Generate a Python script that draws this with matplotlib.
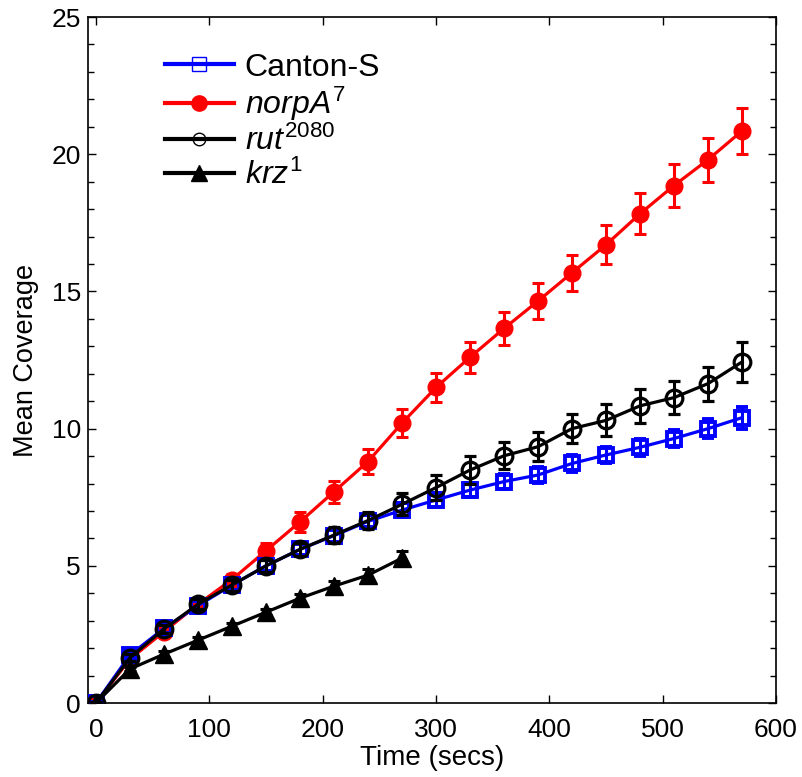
import matplotlib
matplotlib.use("Agg")
import matplotlib.pyplot as plt
import numpy as np
from matplotlib.ticker import MultipleLocator

plt.rcParams["font.family"] = ["Liberation Sans", "DejaVu Sans"]
plt.rcParams["mathtext.fontset"] = "custom"
plt.rcParams["mathtext.rm"] = "Liberation Sans"
plt.rcParams["mathtext.it"] = "Liberation Sans:italic"

# time points (secs)
time = [0, 30, 60, 90, 120, 150, 180, 210, 240, 270,
        300, 330, 360, 390, 420, 450, 480, 510, 540, 570]
time_krz = time[:10]

canton = [0, 1.75, 2.72, 3.55, 4.3, 5.0, 5.6, 6.1, 6.62, 7.03,
          7.4, 7.76, 8.07, 8.31, 8.73, 9.04, 9.32, 9.64, 10.0, 10.4]
canton_err = [0.05, 0.12, 0.15, 0.15, 0.18, 0.2, 0.2, 0.22, 0.22, 0.25,
              0.25, 0.25, 0.28, 0.28, 0.3, 0.3, 0.3, 0.32, 0.35, 0.4]

norpa = [0, 1.6, 2.6, 3.6, 4.5, 5.55, 6.6, 7.7, 8.8, 10.2,
         11.5, 12.6, 13.65, 14.65, 15.68, 16.7, 17.83, 18.86, 19.8, 20.85]
norpa_err = [0.05, 0.12, 0.15, 0.18, 0.22, 0.28, 0.35, 0.4, 0.45, 0.5,
             0.52, 0.57, 0.6, 0.65, 0.66, 0.71, 0.75, 0.79, 0.8, 0.84]

rut = [0, 1.65, 2.7, 3.6, 4.3, 5.0, 5.6, 6.12, 6.65, 7.24,
       7.85, 8.49, 9.01, 9.34, 10.0, 10.3, 10.83, 11.13, 11.64, 12.43]
rut_err = [0.05, 0.12, 0.15, 0.18, 0.2, 0.22, 0.25, 0.28, 0.3, 0.4,
           0.45, 0.5, 0.49, 0.53, 0.52, 0.58, 0.62, 0.6, 0.62, 0.73]

krz = [0, 1.24, 1.78, 2.29, 2.8, 3.31, 3.82, 4.26, 4.66, 5.28]
krz_err = [0.03, 0.08, 0.1, 0.1, 0.12, 0.12, 0.15, 0.18, 0.22, 0.25]

fig = plt.figure(figsize=(8.03, 7.77), dpi=100)
ax = fig.add_axes([0.1096, 0.0952, 0.8568, 0.8829])

lw = 2.3
ekw = dict(elinewidth=2.2, capsize=4.5, capthick=2.2)

ax.errorbar(time, canton, yerr=canton_err, color="#0000ff", lw=lw,
            marker="s", ms=10, mfc="none", mec="#0000ff", mew=2.8,
            **ekw, zorder=3)
ax.errorbar(time, norpa, yerr=norpa_err, color="#ff0000", lw=lw,
            marker="o", ms=12, mfc="#ff0000", mec="#ff0000",
            **ekw, zorder=2)
ax.errorbar(time, rut, yerr=rut_err, color="black", lw=lw,
            marker="o", ms=12, mfc="none", mec="black", mew=2.3,
            **ekw, zorder=4)
ax.errorbar(time_krz, krz, yerr=krz_err, color="black", lw=lw,
            marker="^", ms=13, mfc="black", mec="black",
            **ekw, zorder=5)

# legend handles (markers drawn smaller/thinner as in the original)
h1, = ax.plot([], [], color="#0000ff", lw=3, marker="s", ms=10,
              mfc="none", mec="#0000ff", mew=1)
h2, = ax.plot([], [], color="#ff0000", lw=3, marker="o", ms=11,
              mfc="#ff0000", mec="#ff0000")
h3, = ax.plot([], [], color="black", lw=3, marker="o", ms=9,
              mfc="none", mec="black", mew=1)
h4, = ax.plot([], [], color="black", lw=3, marker="^", ms=11,
              mfc="black", mec="black")
ax.legend([h1, h2, h3, h4],
          ["Canton-S", r"$\mathit{norpA}^{\mathit{7}}$",
           r"$\mathit{rut}^{\mathit{2080}}$", r"$\mathit{krz}^{\mathit{1}}$"],
          loc="upper left", bbox_to_anchor=(0.07, 0.99), frameon=False,
          fontsize=23, handlelength=2.15, labelspacing=0.08,
          handletextpad=0.35)

ax.set_xlim(-7, 600)
ax.set_ylim(0, 25)
ax.xaxis.set_major_locator(MultipleLocator(100))
ax.yaxis.set_major_locator(MultipleLocator(5))
ax.yaxis.set_minor_locator(MultipleLocator(1))
ax.tick_params(which="both", direction="in", top=True, right=True,
               labelsize=19, width=1)
ax.tick_params(which="major", length=6)
ax.tick_params(axis="x", which="major", pad=11)
ax.tick_params(axis="y", which="major", pad=5)
ax.tick_params(which="minor", length=4)
for sp in ax.spines.values():
    sp.set_linewidth(1.2)

ax.set_xlabel("Time (secs)", fontsize=20, labelpad=2)
ax.set_ylabel("Mean Coverage", fontsize=19.5, labelpad=9)

fig.savefig("out.png", dpi=100)
